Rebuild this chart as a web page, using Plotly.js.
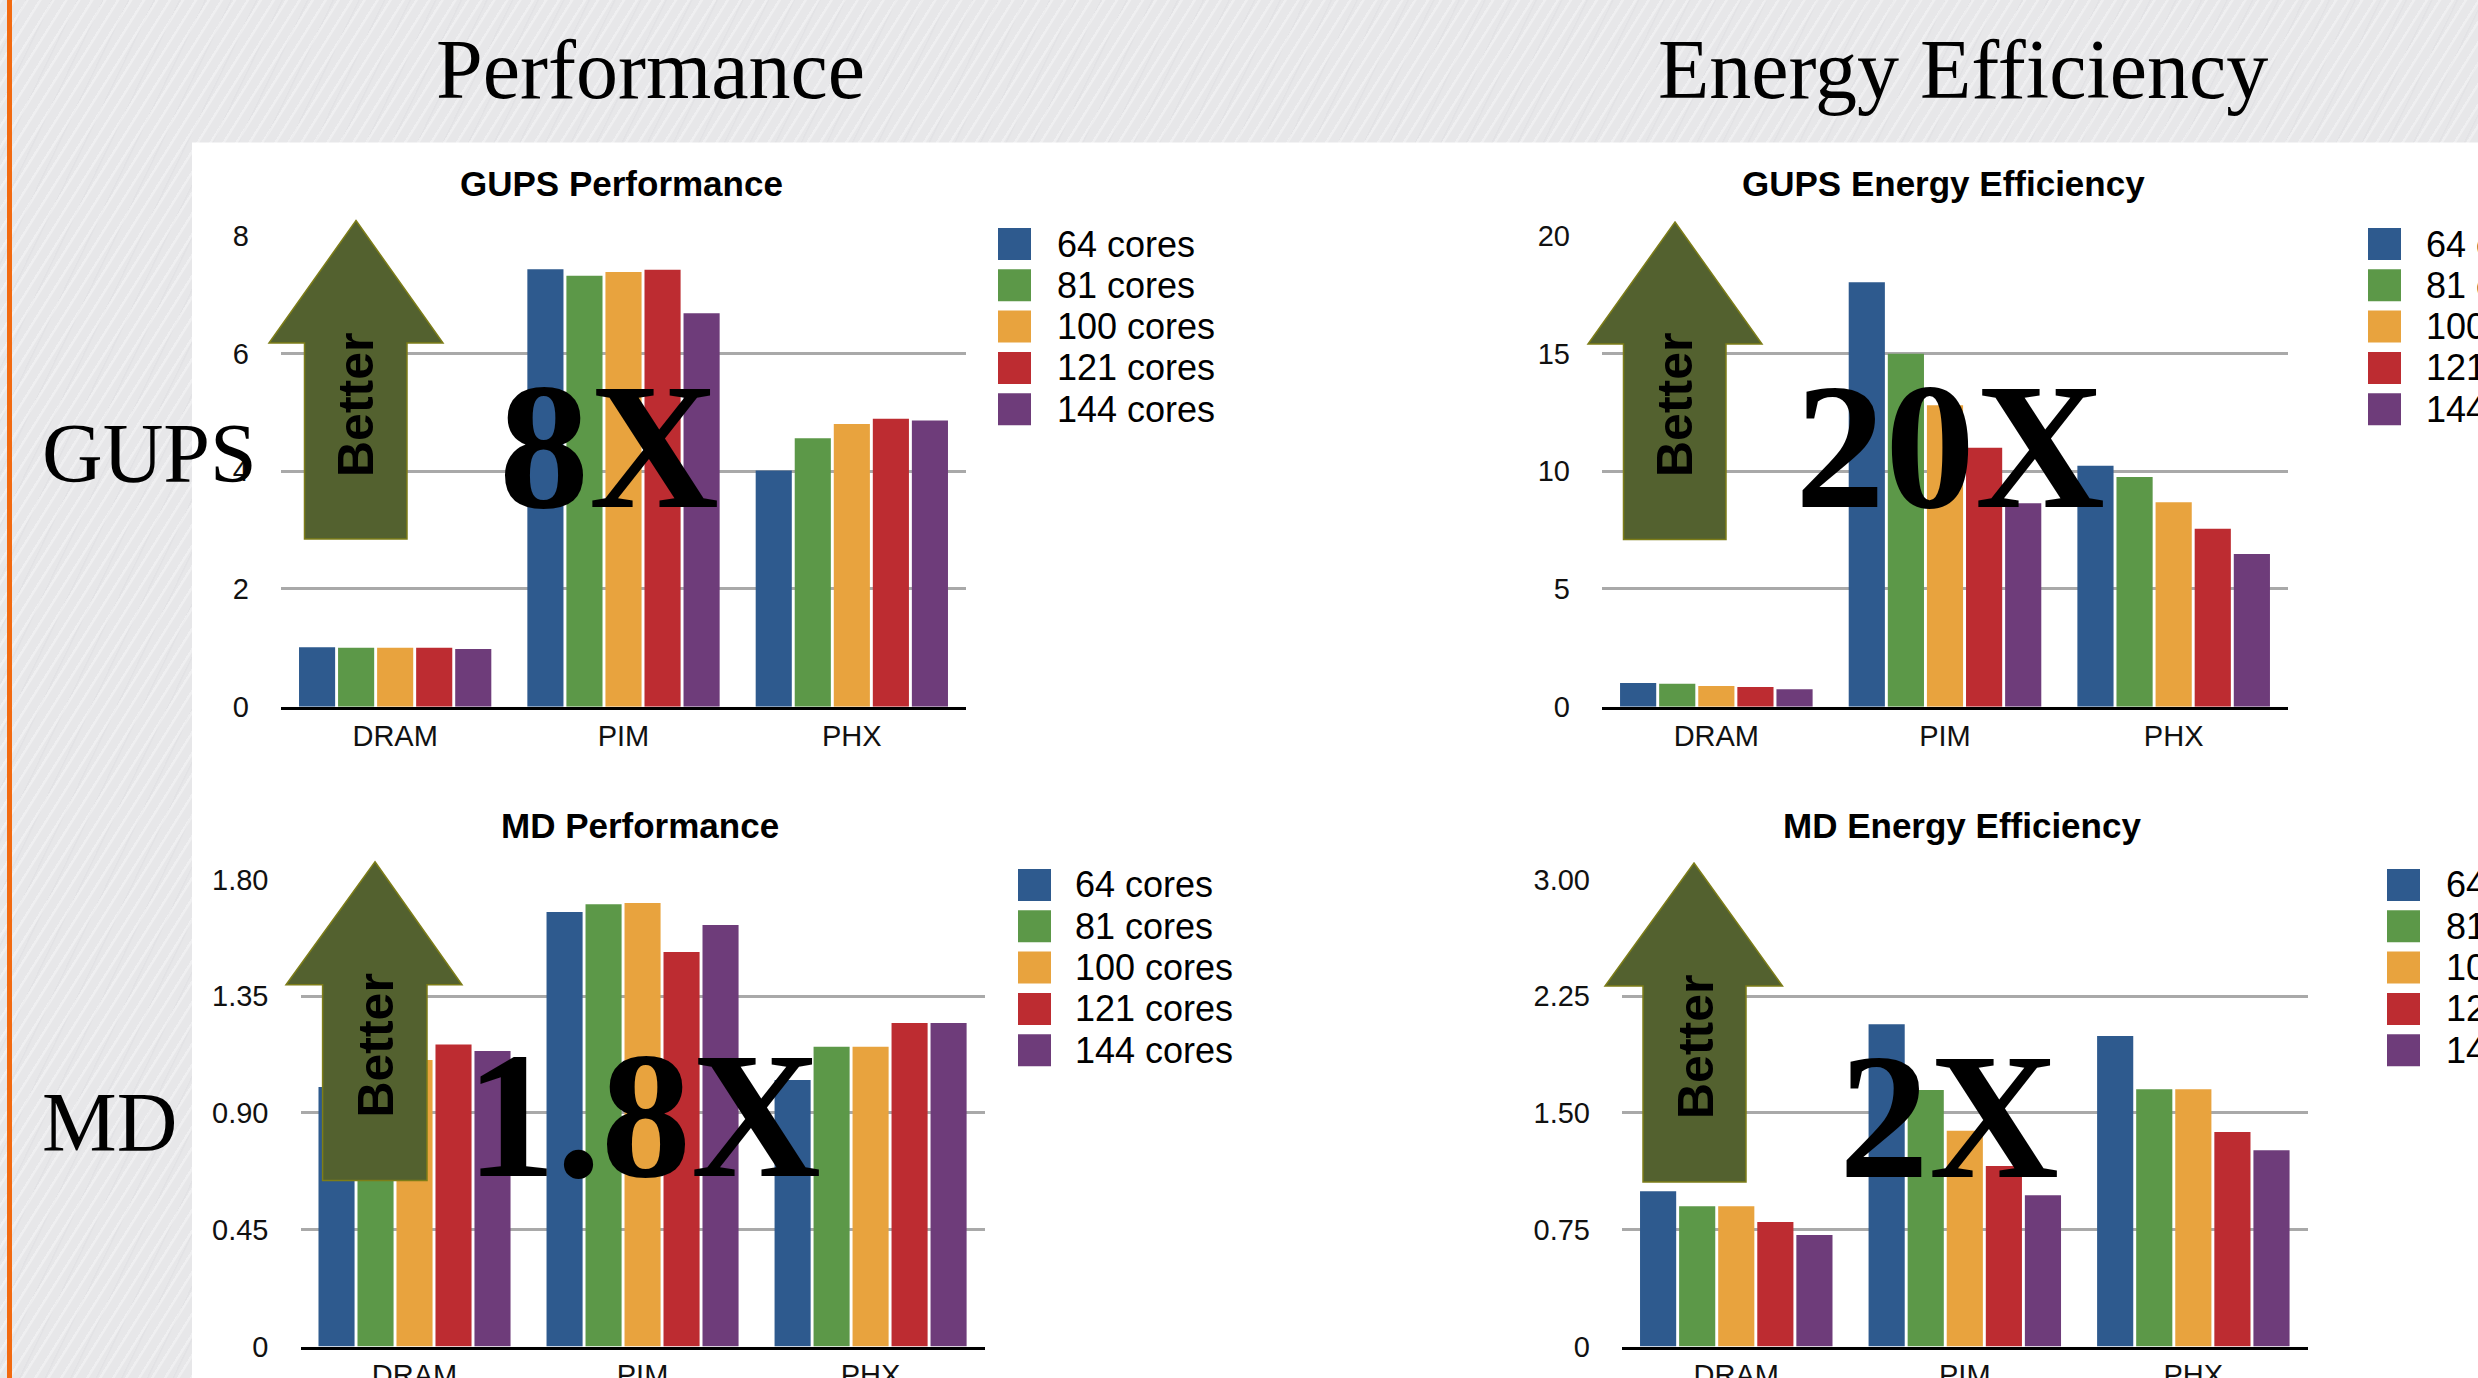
<!DOCTYPE html>
<html>
<head>
<meta charset="utf-8">
<script src="https://cdn.plot.ly/plotly-3.0.1.min.js"></script>
<style>
  html, body { margin: 0; padding: 0; width: 2478px; height: 1378px; overflow: hidden; }
  body {
    background-color: #e7e7e9;
    background-image:
      repeating-linear-gradient(122deg, rgba(255,255,255,0.35) 0px, rgba(255,255,255,0.35) 2px, rgba(255,255,255,0) 3px, rgba(255,255,255,0) 11px),
      repeating-linear-gradient(116deg, rgba(210,210,215,0.22) 0px, rgba(210,210,215,0.22) 1px, rgba(0,0,0,0) 2px, rgba(0,0,0,0) 23px);
  }
  #chart { position: absolute; left: 0; top: 0; width: 2478px; height: 1378px; }
</style>
</head>
<body>
<div id="chart"></div>
<script>
// ---------------- data ----------------
const categories = ['DRAM', 'PIM', 'PHX'];
const seriesNames = ['64 cores', '81 cores', '100 cores', '121 cores', '144 cores'];
const seriesColors = ['#2e5a8e', '#5c9848', '#e8a33e', '#bd2c31', '#6e3c7a'];

// values[series][category]
const gupsPerf = [
  [1.01, 7.43, 4.01],
  [1.00, 7.32, 4.56],
  [1.00, 7.38, 4.80],
  [1.00, 7.42, 4.89],
  [0.98, 6.68, 4.86]
];
const gupsEnergy = [
  [1.01, 18.02, 10.23],
  [0.97, 14.98, 9.75],
  [0.88, 12.80, 8.68],
  [0.84, 10.99, 7.55],
  [0.74, 8.64, 6.48]
];
const mdPerf = [
  [1.00, 1.674, 1.027],
  [1.05, 1.704, 1.155],
  [1.104, 1.709, 1.155],
  [1.164, 1.520, 1.247],
  [1.139, 1.624, 1.247]
];
const mdEnergy = [
  [0.997, 2.07, 1.995],
  [0.90, 1.648, 1.653],
  [0.90, 1.385, 1.653],
  [0.80, 1.159, 1.377],
  [0.716, 0.972, 1.261]
];

const panelTitles = ['GUPS Performance', 'GUPS Energy Efficiency', 'MD Performance', 'MD Energy Efficiency'];
const bigLabels = ['8X', '20X', '1.8X', '2X'];
const gupsTicks = [0, 2, 4, 6, 8];
const gupsEnergyTicks = [0, 5, 10, 15, 20];
const mdPerfTicks = [0, 0.45, 0.90, 1.35, 1.80];
const mdPerfTickText = ['0', '0.45', '0.90', '1.35', '1.80'];
const mdEnergyTicks = [0, 0.75, 1.50, 2.25, 3.00];
const mdEnergyTickText = ['0', '0.75', '1.50', '2.25', '3.00'];

// ---------------- geometry helpers ----------------
const W = 2478, H = 1378;
const px = v => v / W;
const py = v => 1 - v / H;

const panels = [
  { data: gupsPerf, x0: 281, x1: 966, yt: 235.6, yb: 706.7, range: [0, 8], tickvals: gupsTicks, ticktext: gupsTicks.map(String),
    title: [621, 184], big: [609, 447], leg: [998, 228, 1057],
    arrow: { tip: [356, 220.5], headY: 343, headL: 269, headR: 443, shL: 304.5, shR: 407, bot: 539 }, better: [356, 405] },
  { data: gupsEnergy, x0: 1602, x1: 2288, yt: 235.6, yb: 706.7, range: [0, 20], tickvals: gupsEnergyTicks, ticktext: gupsEnergyTicks.map(String),
    title: [1943, 184], big: [1950, 446], leg: [2368, 228, 2426],
    arrow: { tip: [1675, 222], headY: 344, headL: 1588, headR: 1762, shL: 1623.5, shR: 1726, bot: 539.5 }, better: [1675, 405] },
  { data: mdPerf, x0: 300.5, x1: 984.6, yt: 879.4, yb: 1346.5, range: [0, 1.8], tickvals: mdPerfTicks, ticktext: mdPerfTickText,
    title: [640, 825], big: [643, 1115], leg: [1018, 869, 1075],
    arrow: { tip: [375, 861.7], headY: 984.7, headL: 286, headR: 462, shL: 322.6, shR: 427, bot: 1180.6 }, better: [375.6, 1046] },
  { data: mdEnergy, x0: 1622, x1: 2307.6, yt: 879.4, yb: 1346.5, range: [0, 3], tickvals: mdEnergyTicks, ticktext: mdEnergyTickText,
    title: [1962, 825], big: [1948.6, 1116], leg: [2387, 869, 2446],
    arrow: { tip: [1694, 863], headY: 986, headL: 1605, headR: 1782.5, shL: 1643, shR: 1746, bot: 1182 }, better: [1696, 1047] }
];

const FONT = 'Liberation Sans, Arial, Helvetica, sans-serif';
const SERIF = 'Liberation Serif, Times New Roman, serif';

const traces = [];
const layout = {
  width: W, height: H,
  margin: { l: 0, r: 0, t: 0, b: 0 },
  paper_bgcolor: 'rgba(0,0,0,0)',
  plot_bgcolor: 'rgba(0,0,0,0)',
  showlegend: false,
  barmode: 'group',
  bargap: 0.145,
  bargroupgap: 0.075,
  shapes: [],
  annotations: []
};

// white content panel + orange rule
layout.shapes.push({ type: 'rect', xref: 'paper', yref: 'paper', x0: px(192), x1: 1, y0: 0, y1: py(142.5),
  fillcolor: '#ffffff', line: { width: 0 }, layer: 'below' });
layout.shapes.push({ type: 'rect', xref: 'paper', yref: 'paper', x0: px(7), x1: px(12), y0: 0, y1: 1,
  fillcolor: '#f26a10', line: { width: 0 }, layer: 'below' });

panels.forEach((p, i) => {
  const n = i + 1;
  const xa = n === 1 ? 'x' : 'x' + n;
  const ya = n === 1 ? 'y' : 'y' + n;
  seriesNames.forEach((name, s) => {
    traces.push({
      type: 'bar', name: name, x: categories, y: p.data[s],
      xaxis: xa, yaxis: ya,
      marker: { color: seriesColors[s], line: { width: 0 } },
      hoverinfo: 'skip'
    });
  });
  const xk = n === 1 ? 'xaxis' : 'xaxis' + n;
  const yk = n === 1 ? 'yaxis' : 'yaxis' + n;
  layout[xk] = {
    domain: [px(p.x0), px(p.x1)], anchor: ya,
    type: 'category', showgrid: false, zeroline: false,
    showline: true, linecolor: '#000000', linewidth: 3,
    ticks: '', ticklabelstandoff: 1,
    tickfont: { family: FONT, size: 29, color: '#111111' }
  };
  layout[yk] = {
    domain: [py(p.yb), py(p.yt)], anchor: xa,
    range: p.range, tickmode: 'array', tickvals: p.tickvals, ticktext: p.ticktext,
    showgrid: true, gridcolor: '#a9a9a9', gridwidth: 3,
    zeroline: false, showline: false, ticks: '', ticklabelstandoff: 31,
    tickfont: { family: FONT, size: 29, color: '#111111' }
  };

  // panel title
  layout.annotations.push({ xref: 'paper', yref: 'paper', x: px(p.title[0]), y: py(p.title[1]),
    xanchor: 'center', yanchor: 'middle', showarrow: false, text: '<b>' + panelTitles[i] + '</b>',
    font: { family: FONT, size: 35, color: '#000000' } });

  // custom legend
  seriesNames.forEach((name, s) => {
    const top = p.leg[1] + s * 41.3;
    layout.shapes.push({ type: 'rect', xref: 'paper', yref: 'paper',
      x0: px(p.leg[0]), x1: px(p.leg[0] + 33), y0: py(top + 32), y1: py(top),
      fillcolor: seriesColors[s], line: { width: 0 }, layer: 'above' });
    layout.annotations.push({ xref: 'paper', yref: 'paper', x: px(p.leg[2] - 2), y: py(top + 16),
      xanchor: 'left', yanchor: 'middle', showarrow: false, text: name,
      font: { family: FONT, size: 36, color: '#000000' } });
  });

  // "Better" arrow
  const a = p.arrow;
  const pts = [
    [a.tip[0], a.tip[1]], [a.headR, a.headY], [a.shR, a.headY], [a.shR, a.bot],
    [a.shL, a.bot], [a.shL, a.headY], [a.headL, a.headY]
  ];
  const path = 'M' + pts.map(q => px(q[0]).toFixed(6) + ',' + py(q[1]).toFixed(6)).join(' L') + ' Z';
  layout.shapes.push({ type: 'path', xref: 'paper', yref: 'paper', path: path,
    fillcolor: '#53612f', line: { color: '#7d7d18', width: 1.5 }, layer: 'above' });
  layout.annotations.push({ xref: 'paper', yref: 'paper', x: px(p.better[0]), y: py(p.better[1]),
    xanchor: 'center', yanchor: 'middle', showarrow: false, textangle: -90, text: '<b>Better</b>',
    font: { family: FONT, size: 50, color: '#000000' } });

  // big factor label
  layout.annotations.push({ xref: 'paper', yref: 'paper', x: px(p.big[0]), y: py(p.big[1]),
    xanchor: 'center', yanchor: 'middle', showarrow: false, text: '<b>' + bigLabels[i] + '</b>',
    font: { family: SERIF, size: 180, color: '#000000' } });
});

// slide headings and row labels
layout.annotations.push({ xref: 'paper', yref: 'paper', x: px(650), y: py(69), xanchor: 'center', yanchor: 'middle',
  showarrow: false, text: 'Performance', font: { family: SERIF, size: 84, color: '#000000' } });
layout.annotations.push({ xref: 'paper', yref: 'paper', x: px(1963), y: py(69), xanchor: 'center', yanchor: 'middle',
  showarrow: false, text: 'Energy Efficiency', font: { family: SERIF, size: 84, color: '#000000' } });
layout.annotations.push({ xref: 'paper', yref: 'paper', x: px(40), y: py(454), xanchor: 'left', yanchor: 'middle',
  showarrow: false, text: 'GUPS', font: { family: SERIF, size: 84, color: '#000000' } });
layout.annotations.push({ xref: 'paper', yref: 'paper', x: px(40), y: py(1122), xanchor: 'left', yanchor: 'middle',
  showarrow: false, text: 'MD', font: { family: SERIF, size: 84, color: '#000000' } });

Plotly.newPlot('chart', traces, layout, { staticPlot: true, displayModeBar: false });
</script>
</body>
</html>
